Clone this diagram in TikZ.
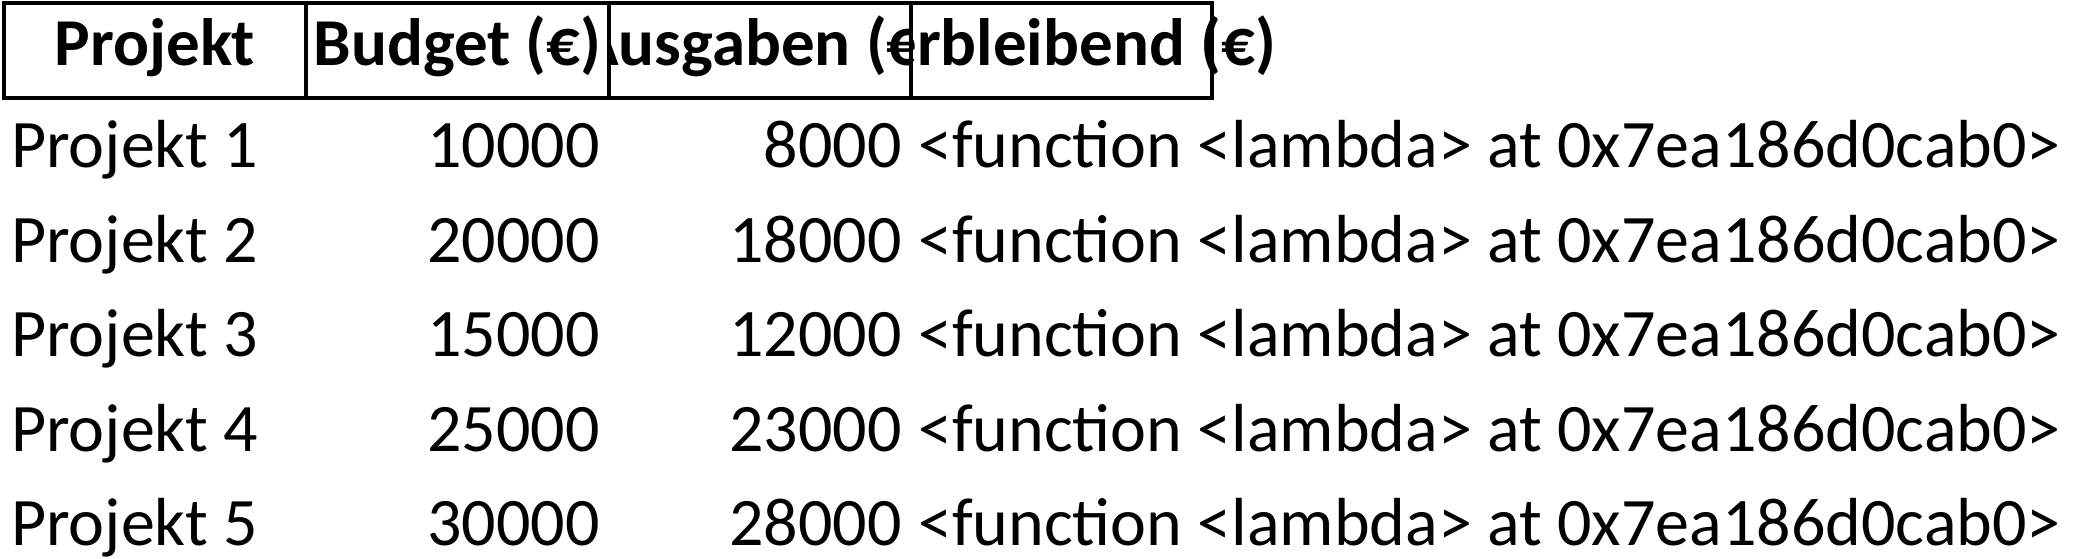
\documentclass[tikz,border=0pt]{standalone}
\usepackage{fontspec}
\setmainfont{Carlito}
\begin{document}
\begin{tikzpicture}[x=1pt,y=1pt,
  cell/.style={font=\fontsize{68}{72}\selectfont, inner sep=0pt, anchor=base},
  head/.style={font=\bfseries\fontsize{67}{72}\selectfont, inner sep=0pt, anchor=base},
  box/.style={draw=black, line width=4pt}]
\useasboundingbox (0,0) rectangle (2079,-559);
\foreach \l/\r/\t [count=\i] in {4/306/Projekt, 306/609/Budget (€), 609/911/Ausgaben (€), 911/1212/Verbleibend (€)}{
  \begin{scope}
    \ifnum\i=4 \clip (\l,0) rectangle (2079,-100); \else \clip (\l,0) rectangle (\r,-100); \fi
    \node[head] (h\i) at ({(\l+\r)/2},-66) {\t};
  \end{scope}
  \draw[box] (\l,-3) rectangle (\r,-98);
}
\foreach \y/\n/\b/\a in {-167/1/10000/8000, -262/2/20000/18000, -356/3/15000/12000, -451/4/25000/23000, -545/5/30000/28000}{
  \node[cell, anchor=base west] (p\n) at (11,\y) {Projekt \n};
  \node[cell, anchor=base east] (b\n) at (600,\y) {\b};
  \node[cell, anchor=base east] (a\n) at (902,\y) {\a};
  \node[cell, anchor=base west] (v\n) at (918,\y) {<function <lambda> at 0x7ea186d0cab0>};
}
\end{tikzpicture}
\end{document}
